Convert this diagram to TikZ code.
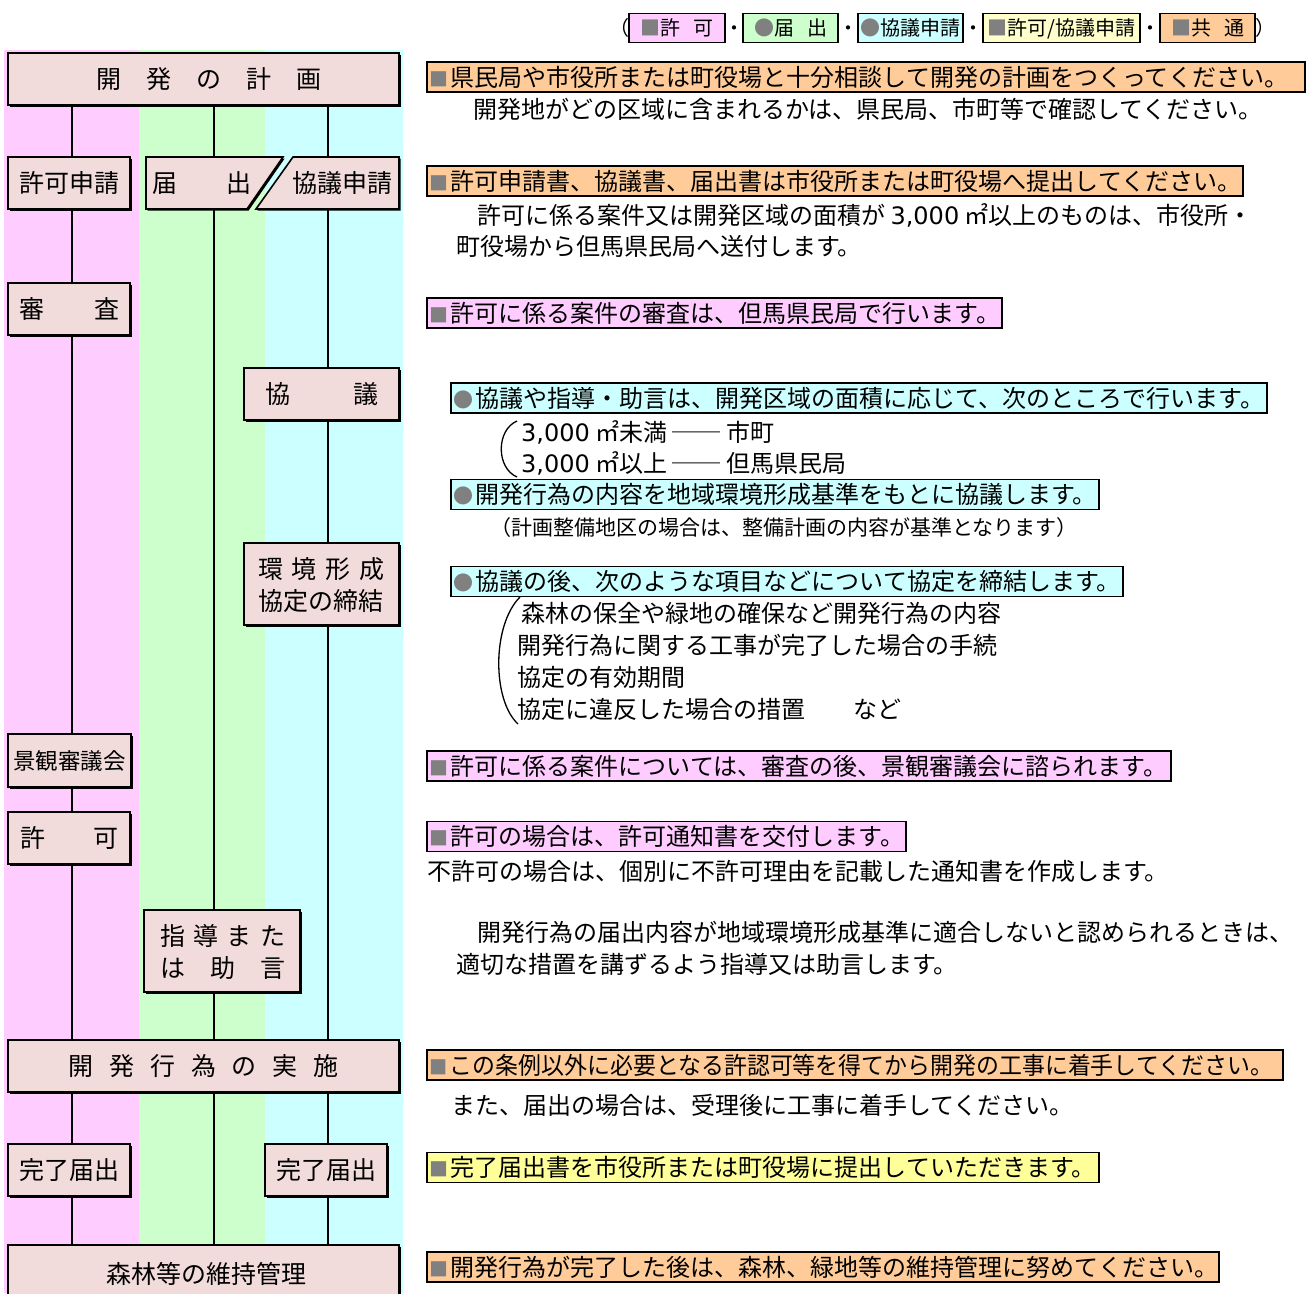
\documentclass[tikz,border=0pt]{standalone}
\usepackage{graphicx}
\usepackage{fontspec}
\setmainfont{Noto Sans CJK JP}
\newfontfamily\digitfont{DejaVu Sans}
\usetikzlibrary{shadows}
\definecolor{bpink}{HTML}{FFCCFF}
\definecolor{bgreen}{HTML}{CCFFCC}
\definecolor{bcyan}{HTML}{CCFFFF}
\definecolor{boxpink}{HTML}{F2DCDB}
\definecolor{hor}{HTML}{FFCC99}
\definecolor{hyel}{HTML}{FFFF99}
\definecolor{lyel}{HTML}{FFFFCC}
\definecolor{mgray}{HTML}{808080}
\newcommand\fsz[1]{\fontsize{#1}{#1}\selectfont}
\newcommand\sq{{\fontsize{19}{19}\selectfont\textcolor{mgray}{■}}}
\newcommand\ci{{\fontsize{20}{20}\selectfont\textcolor{mgray}{●}}}
\newcommand\lsq{\textcolor{mgray}{■}}
\newcommand\lci{\textcolor{mgray}{●}}
\newcommand\tsd{{\digitfont 3,000}}
\newcommand\hlnode[6]{\node[hlbox, fill=#5, minimum width={#3pt-#2pt}] (#1) at (#2,#4) {\makebox[\dimexpr #3pt-#2pt-6pt\relax][l]{#6}};}
\tikzset{
  flowbox/.style={draw=black, line width=1.6pt, fill=boxpink, inner sep=0pt,
    font=\fsz{25}, text height=22pt, text depth=3pt,
    drop shadow={shadow xshift=1.6pt, shadow yshift=-1.6pt, fill=black, opacity=1}},
  btxt/.style={inner sep=0pt, font=\fsz{25}, text height=22pt, text depth=3pt},
  conn/.style={line width=1.6pt},
  hlbox/.style={draw=black, line width=1.6pt, inner sep=0pt, minimum height=30pt,
    font=\fsz{24}, text height=21pt, text depth=3pt, anchor=west},
  plain/.style={inner sep=0pt, font=\fsz{24}, text height=21pt, text depth=3pt, anchor=west},
  note/.style={inner sep=0pt, font=\fsz{21}, text height=18.5pt, text depth=2.5pt, anchor=west},
  leg/.style={draw=black, line width=1.5pt, inner sep=0pt, minimum height=29pt,
    font=\fsz{20}, text height=17.6pt, text depth=2.4pt},
  lgt/.style={inner sep=0pt, font=\fsz{20}, text height=17.6pt, text depth=2.4pt},
  brace/.style={line width=1.3pt},
}
\begin{document}
\begin{tikzpicture}[x=1pt,y=-1pt]
\useasboundingbox (0,0) rectangle (1313,1293);
\fill[white] (0,0) rectangle (1313,1293);
% bands
\fill[bpink] (4,50) rectangle (139,1293);
\fill[bgreen] (139,50) rectangle (265,1293);
\fill[bcyan] (265,50) rectangle (403,1293);

% legend
\node[lgt, anchor=east] (lp1) at (630,28) {（};
\node[leg, fill=bpink, minimum width=96pt] (lg1) at (677,28) {\lsq 許\hspace{13pt}可};
\node[lgt] (ld1) at (734,28) {・};
\node[leg, fill=bgreen, minimum width=95pt] (lg2) at (790.5,28) {\lci 届\hspace{13pt}出};
\node[lgt] (ld2) at (848,28) {・};
\node[leg, fill=bcyan, minimum width=105pt] (lg3) at (910.5,28) {\lci 協議申請};
\node[lgt] (ld3) at (973,28) {・};
\node[leg, fill=lyel, minimum width=157pt] (lg4) at (1061.5,28) {\lsq 許可/協議申請};
\node[lgt] (ld4) at (1150,28) {・};
\node[leg, fill=hor, minimum width=95pt] (lg5) at (1207.5,28) {\lsq 共\hspace{13pt}通};
\node[lgt, anchor=west] (lp2) at (1255,28) {）};

% flow boxes
\node[flowbox, minimum width=391pt, minimum height=52pt] (plan) at (203.5,79)
  {\hspace*{11pt}\makebox[225pt][s]{開\hfill 発\hfill の\hfill 計\hfill 画}};
\node[flowbox, minimum width=122pt, minimum height=52pt] (kyokas) at (69,183) {許可申請};
% todoke / kyogi shinsei split box
\node[inner sep=0pt, minimum width=137pt, minimum height=52pt] (todoke) at (214.5,183) {};
\node[inner sep=0pt, minimum width=143pt, minimum height=52pt] (kyogis) at (327.5,183) {};
\fill[black, xshift=1.6pt, yshift=-1.6pt] (146,157) -- (283,157) -- (247,209) -- (146,209) -- cycle;
\fill[black, xshift=1.6pt, yshift=-1.6pt] (293,157) -- (399,157) -- (399,209) -- (256,209) -- cycle;
\draw[line width=1.6pt, fill=boxpink] (146,157) -- (283,157) -- (247,209) -- (146,209) -- cycle;
\draw[line width=1.6pt, fill=boxpink] (293,157) -- (399,157) -- (399,209) -- (256,209) -- cycle;
\node[btxt] (todoket) at (201.5,183) {\makebox[99pt][s]{届\hfill 出}};
\node[btxt] (kyogist) at (342.5,183) {協議申請};

\node[flowbox, minimum width=122pt, minimum height=52pt] (shinsa) at (69,309) {\makebox[100pt][s]{審\hfill 査}};
\node[flowbox, minimum width=155pt, minimum height=52pt] (kyogi) at (321.5,394) {\makebox[113pt][s]{協\hfill 議}};
\node[flowbox, minimum width=155pt, minimum height=82pt] (kankyo) at (321.5,584) {};
\node[btxt] (kankyo1) at (321,569) {\makebox[126pt][s]{環\hfill 境\hfill 形\hfill 成}};
\node[btxt] (kankyo2) at (321,601) {協定の締結};
\node[flowbox, minimum width=123pt, minimum height=53pt, font=\fsz{22.5}, text height=20pt, text depth=2.5pt] (keikan) at (69.5,760.5) {景観審議会};
\node[flowbox, minimum width=122pt, minimum height=52pt] (kyoka) at (69,838) {\makebox[98pt][s]{許\hfill 可}};
\node[flowbox, minimum width=156pt, minimum height=82pt] (shido) at (222,951) {};
\node[btxt] (shido1) at (222.5,936) {\makebox[125pt][s]{指\hfill 導\hfill ま\hfill た}};
\node[btxt] (shido2) at (222.5,968) {\makebox[125pt][s]{は\hfill 助\hfill 言}};
\node[flowbox, minimum width=391pt, minimum height=52pt] (jisshi) at (203.5,1066)
  {\makebox[270pt][s]{開\hfill 発\hfill 行\hfill 為\hfill の\hfill 実\hfill 施}};
\node[flowbox, minimum width=122pt, minimum height=52pt] (kanryo1) at (69,1170) {完了届出};
\node[flowbox, minimum width=122pt, minimum height=52pt] (kanryo2) at (326,1170) {完了届出};
\node[flowbox, minimum width=391pt, minimum height=58pt] (iji) at (203.5,1274) {\hspace*{6pt}森林等の維持管理};

% connectors
\coordinate (L1) at (72,0);
\coordinate (L2) at (214,0);
\coordinate (L3) at (328,0);
\draw[conn] (plan.south -| L1) -- (kyokas.north -| L1);
\draw[conn] (kyokas.south -| L1) -- (shinsa.north -| L1);
\draw[conn] (shinsa.south -| L1) -- (keikan.north -| L1);
\draw[conn] (keikan.south -| L1) -- (kyoka.north -| L1);
\draw[conn] (kyoka.south -| L1) -- (jisshi.north -| L1);
\draw[conn] (jisshi.south -| L1) -- (kanryo1.north -| L1);
\draw[conn] (kanryo1.south -| L1) -- (iji.north -| L1);
\draw[conn] (plan.south -| L2) -- (todoke.north -| L2);
\draw[conn] (todoke.south -| L2) -- (shido.north -| L2);
\draw[conn] (shido.south -| L2) -- (jisshi.north -| L2);
\draw[conn] (jisshi.south -| L2) -- (iji.north -| L2);
\draw[conn] (plan.south -| L3) -- (kyogis.north -| L3);
\draw[conn] (kyogis.south -| L3) -- (kyogi.north -| L3);
\draw[conn] (kyogi.south -| L3) -- (kankyo.north -| L3);
\draw[conn] (kankyo.south -| L3) -- (jisshi.north -| L3);
\draw[conn] (jisshi.south -| L3) -- (kanryo2.north -| L3);
\draw[conn] (kanryo2.south -| L3) -- (iji.north -| L3);

% right side texts
\hlnode{h1}{426}{1304}{77}{hor}{\sq\hspace{2pt}県民局や市役所または町役場と十分相談して開発の計画をつくってください。}
\node[plain] (t1) at (473,109) {開発地がどの区域に含まれるかは、県民局、市町等で確認してください。};
\hlnode{h2}{426}{1242}{181}{hor}{\sq\hspace{2pt}許可申請書、協議書、届出書は市役所または町役場へ提出してください。}
\node[plain] (t2a) at (477,215) {許可に係る案件又は開発区域の面積が \tsd\ ㎡以上のものは、市役所・};
\node[plain] (t2b) at (456,246) {町役場から但馬県民局へ送付します。};
\hlnode{h3}{426}{1001}{313}{bpink}{\sq\hspace{2pt}許可に係る案件の審査は、但馬県民局で行います。}
\hlnode{h4}{450}{1266}{398}{bcyan}{\ci\hspace{2pt}協議や指導・助言は、開発区域の面積に応じて、次のところで行います。}
\draw[brace] (517,421) .. controls (496,430) and (496,468) .. (517,477);
\node[plain] (t4a) at (521,432) {\tsd\ ㎡未満 ── 市町};
\node[plain] (t4b) at (521,463) {\tsd\ ㎡以上 ── 但馬県民局};
\hlnode{h5}{450}{1098}{494.5}{bcyan}{\ci\hspace{2pt}開発行為の内容を地域環境形成基準をもとに協議します。}
\node[note] (t5) at (490,527) {（計画整備地区の場合は、整備計画の内容が基準となります）};
\hlnode{h6}{450}{1122}{581.5}{bcyan}{\ci\hspace{2pt}協議の後、次のような項目などについて協定を締結します。}
\draw[brace] (520,597) .. controls (492,625) and (492,700) .. (518,724);
\node[plain] (t6a) at (521,613) {森林の保全や緑地の確保など開発行為の内容};
\node[plain] (t6b) at (517,645) {開発行為に関する工事が完了した場合の手続};
\node[plain] (t6c) at (517,677) {協定の有効期間};
\node[plain] (t6d) at (517,709) {協定に違反した場合の措置　　など};
\hlnode{h7}{426}{1170}{766}{bpink}{\sq\hspace{2pt}許可に係る案件については、審査の後、景観審議会に諮られます。}
\hlnode{h8}{426}{905}{836.5}{bpink}{\sq\hspace{2pt}許可の場合は、許可通知書を交付します。}
\node[plain] (t8) at (427,871) {不許可の場合は、個別に不許可理由を記載した通知書を作成します。};
\node[plain] (t9a) at (477,932) {開発行為の届出内容が地域環境形成基準に適合しないと認められるときは、};
\node[plain] (t9b) at (456,964) {適切な措置を講ずるよう指導又は助言します。};
\hlnode{h10}{426}{1282}{1065}{hor}{\scalebox{0.955}[1]{\sq\hspace{2pt}この条例以外に必要となる許認可等を得てから開発の工事に着手してください。}}
\node[plain] (t10) at (451,1105) {また、届出の場合は、受理後に工事に着手してください。};
\hlnode{h11}{426}{1098}{1167.5}{hyel}{\sq\hspace{2pt}完了届出書を市役所または町役場に提出していただきます。}
\hlnode{h12}{426}{1218}{1267}{hor}{\sq\hspace{2pt}開発行為が完了した後は、森林、緑地等の維持管理に努めてください。}
\end{tikzpicture}
\end{document}
